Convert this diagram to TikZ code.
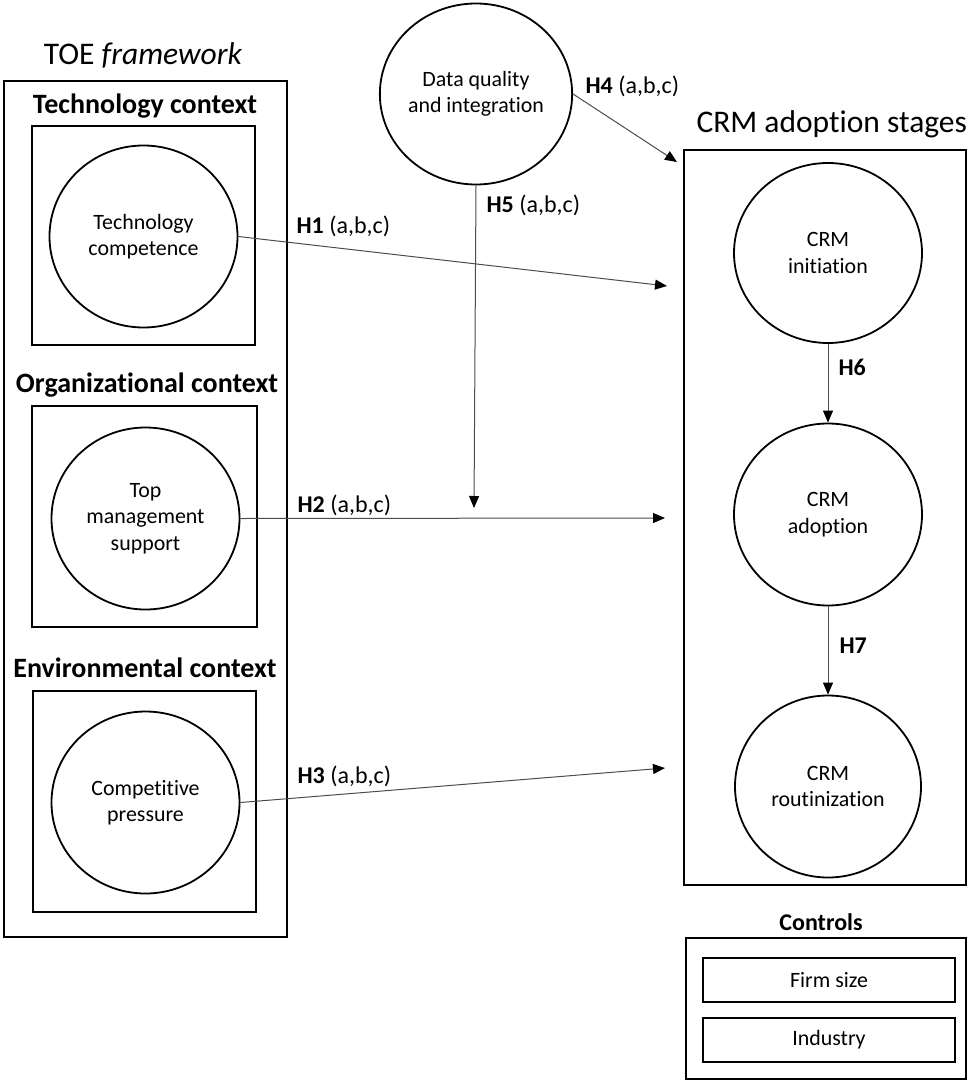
\documentclass[tikz,border=0pt]{standalone}
\usepackage{fontspec}
\setmainfont{Carlito}[Ligatures=NoCommon]
\usetikzlibrary{positioning,arrows.meta,shapes.geometric}

\begin{document}
\begin{tikzpicture}[
        x=1pt, y=-1pt,
        frame/.style={
            rectangle,
            draw,
            line width=1.8pt,
            inner sep=0pt
        },
        construct/.style={
            ellipse,
            draw,
            line width=1.8pt,
            minimum width=188pt,
            minimum height=182pt,
            inner sep=0pt,
            align=center,
            font=\fontsize{21.9}{26.5}\selectfont
        },
        heading/.style={
            anchor=base,
            font=\fontsize{28}{33}\selectfont\bfseries
        },
        title/.style={
            font=\fontsize{31.5}{38}\selectfont
        },
        hyp/.style={
            anchor=base west,
            font=\fontsize{24}{29}\selectfont
        },
        item/.style={
            rectangle,
            draw,
            line width=1.2pt,
            minimum width=252pt,
            minimum height=44pt,
            font=\fontsize{21.9}{26.5}\selectfont
        },
        arrow/.style={
            -{Triangle[length=12pt,width=10pt,color=black]},
            line width=1pt,
            draw=black!70
        }
    ]
    \useasboundingbox (0,0) rectangle (967,1081);

    % TOE framework
    \node[title, anchor=base] (toe) at (143,65) {TOE \textit{framework}};
    \node[frame, minimum width=283pt, minimum height=856pt] (toebox) at (145.5,509) {};

    % Technology context
    \node[heading] (techhead) at (145,113) {Technology context};
    \node[frame, minimum width=223pt, minimum height=219pt] (techbox) at (143.5,235.5) {};
    \node[construct] (tc) at (143.5,236.5) {Technology\\competence};

    % Organizational context
    \node[heading] (orghead) at (147,392) {Organizational context};
    \node[frame, minimum width=225pt, minimum height=221pt] (orgbox) at (144.5,516.5) {};
    \node[construct] (tms) at (145.5,518.5) {Top\\management\\support};

    % Environmental context
    \node[heading] (envhead) at (145,677) {Environmental context};
    \node[frame, minimum width=223pt, minimum height=221pt] (envbox) at (144.5,801.5) {};
    \node[construct] (cp) at (145.5,802.5) {Competitive\\pressure};

    % Data quality
    \node[construct, minimum width=186pt, minimum height=181pt] (dq) at (476,94) {Data quality\\and integration};

    % CRM adoption stages
    \node[title, anchor=base west] (stages) at (693,132) {CRM adoption stages};
    \node[frame, minimum width=282pt, minimum height=735pt] (stagebox) at (825,517.5) {};
    \node[construct, minimum height=180pt] (init) at (828,253) {CRM\\initiation};
    \node[construct] (adopt) at (828,514.5) {CRM\\adoption};
    \node[construct, minimum width=186pt] (rout) at (828,786.5) {CRM\\routinization};

    % Controls
    \node[heading, font=\fontsize{24}{29}\selectfont\bfseries] (ctrlhead) at (821,930) {Controls};
    \node[frame, minimum width=280pt, minimum height=141pt] (ctrlbox) at (826,1008.5) {};
    \node[item] (firm) at (829,980) {Firm size};
    \node[item] (industry) at (829,1040) {Industry};

    % Arrow ends
    \coordinate (h1end) at (667,286);
    \coordinate (h2end) at (665,518);
    \coordinate (h3end) at (665,768);
    \coordinate (h4end) at (677,162);
    \coordinate (h5end) at (474,508);

    % Connections
    \draw[arrow] (tc.east) -- (h1end);
    \draw[arrow] (tms.east) -- (h2end);
    \draw[arrow] (cp.east) -- (h3end);
    \draw[arrow] (dq.east) -- (h4end);
    \draw[arrow] (dq.south) -- (h5end);
    \draw[arrow] (init) -- (adopt);
    \draw[arrow] (adopt) -- (rout);

    % Hypothesis labels
    \node[hyp] (h1) at (293,233) {\textbf{H1} (a,b,c)};
    \node[hyp] (h2) at (294,512) {\textbf{H2} (a,b,c)};
    \node[hyp] (h3) at (294,783) {\textbf{H3} (a,b,c)};
    \node[hyp] (h4) at (582,93) {\textbf{H4} (a,b,c)};
    \node[hyp] (h5) at (483,212) {\textbf{H5} (a,b,c)};
    \node[hyp] (h6) at (835,375) {\textbf{H6}};
    \node[hyp] (h7) at (836,653) {\textbf{H7}};

\end{tikzpicture}
\end{document}
